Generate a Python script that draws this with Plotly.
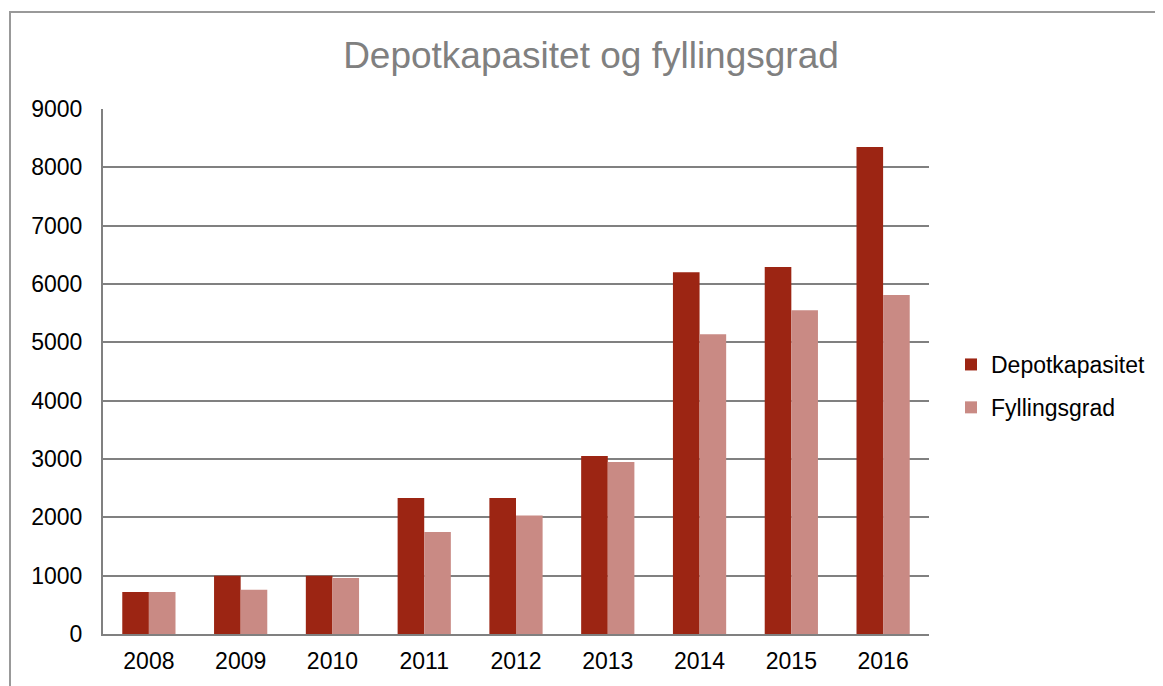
import plotly.graph_objects as go

years = ["2008", "2009", "2010", "2011", "2012", "2013", "2014", "2015", "2016"]
depotkapasitet = [720, 1000, 1000, 2330, 2330, 3050, 6200, 6290, 8350]
fyllingsgrad = [720, 760, 960, 1750, 2030, 2950, 5140, 5550, 5810]

fig = go.Figure()
fig.add_trace(go.Bar(x=years, y=depotkapasitet, name="Depotkapasitet",
                     marker=dict(color="#9C2513", line=dict(width=0)),
                     legendgroup="a"))
fig.add_trace(go.Bar(x=years, y=fyllingsgrad, name="Fyllingsgrad",
                     marker=dict(color="#C98A84", line=dict(width=0)),
                     legendgroup="b"))

font = "Liberation Sans, Arial, sans-serif"
# page body has 8px default margin; offsets compensate
W, H = 1163, 686
L, R, T, B = 95, 1163 - 921, 101, 686 - 626
fig.update_layout(
    width=W, height=H,
    margin=dict(l=L, r=R, t=T, b=B),
    paper_bgcolor="white", plot_bgcolor="white",
    barmode="group", bargap=0.42, bargroupgap=0,
    title=dict(text="Depotkapasitet og fyllingsgrad", x=583 / W, xanchor="center",
               y=1 - 47 / H, yanchor="middle",
               font=dict(family=font, size=37, color="#808080")),
    font=dict(family=font, size=23, color="#000000"),
    legend=dict(x=(951 - 103) / 826, y=(634 - 386) / 525, xanchor="left", yanchor="middle",
                font=dict(family=font, size=23, color="#000000"),
                tracegroupgap=10, itemwidth=30, bgcolor="rgba(0,0,0,0)"),
    showlegend=True,
    xaxis=dict(showgrid=False, showline=True, linecolor="#808080", linewidth=2,
               ticks="", tickfont=dict(size=23), ticklabelstandoff=5),
    yaxis=dict(range=[0, 9000], dtick=1000, showgrid=True, gridcolor="#808080",
               gridwidth=2, showline=True, linecolor="#808080", linewidth=2,
               ticks="", tickfont=dict(size=23), zeroline=False,
               ticklabelstandoff=14),
)
fig.add_shape(type="rect", xref="paper", yref="paper",
              x0=(10 - 103) / 826, x1=(1180 - 103) / 826,
              y0=(634 - 720) / 525, y1=(634 - 12) / 525,
              line=dict(color="#999999", width=2), fillcolor="rgba(0,0,0,0)",
              layer="below")
fig.write_html("out.html")
